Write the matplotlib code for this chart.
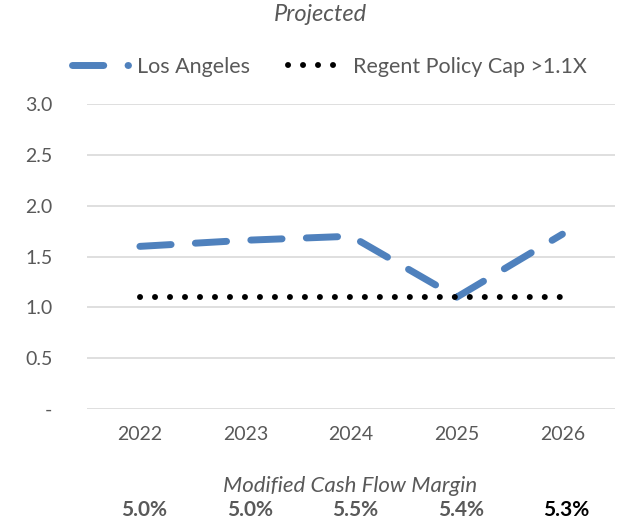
import matplotlib
matplotlib.use('Agg')
import matplotlib.pyplot as plt
import matplotlib.transforms as mtransforms

# chart data
years = ['2022', '2023', '2024', '2025', '2026']
los_angeles = [1.60, 1.66, 1.70, 1.10, 1.72]
policy_cap = [1.1, 1.1, 1.1, 1.1, 1.1]
cash_flow_margin = ['5.0%', '5.0%', '5.5%', '5.4%', '5.3%']
y_ticks = [0, 0.5, 1.0, 1.5, 2.0, 2.5, 3.0]
y_tick_labels = ['-', '0.5', '1.0', '1.5', '2.0', '2.5', '3.0']

plt.rcParams['font.family'] = ['Lato', 'DejaVu Sans']
grey = '#595959'

fig = plt.figure(figsize=(6.31, 5.23), dpi=100)
ax = fig.add_axes([0.138, 0.218, 0.837, 0.583])

x = list(range(len(years)))
ax.plot(x, los_angeles, color='#4f81bd', lw=5, linestyle=(0, (4.5, 3.5)),
        solid_capstyle='round', dash_capstyle='round', label='Los Angeles')
ax.plot(x, policy_cap, color='black', lw=4.3, linestyle=(0, (0.01, 2.5)),
        dash_capstyle='round', label='Regent Policy Cap >1.1X')

ax.set_xlim(-0.5, len(years) - 0.5)
ax.set_ylim(0, 3.0)
ax.set_yticks(y_ticks)
ax.set_yticklabels(y_tick_labels)
ax.set_xticks(x)
ax.set_xticklabels(years)
ax.tick_params(axis='both', length=0, labelsize=14, colors=grey)
ax.tick_params(axis='x', pad=12)
ax.tick_params(axis='y', pad=25)
for lbl in ax.get_yticklabels():
    lbl.set_horizontalalignment('right')
ax.grid(True, axis='y', color='#d9d9d9', lw=1.2)
ax.set_axisbelow(True)
for s in ax.spines.values():
    s.set_visible(False)

fig.text(0.508, 0.972, 'Projected', ha='center', va='center', fontsize=17,
         style='italic', color=grey)

leg = fig.legend(loc='center', bbox_to_anchor=(0.522, 0.872), ncol=2, frameon=False,
                 fontsize=15.5, handlelength=2.6, columnspacing=1.8, handletextpad=0.4)
for t in leg.get_texts():
    t.set_color(grey)

fig.text(0.555, 0.071, 'Modified Cash Flow Margin', ha='center', va='center',
         fontsize=16, style='italic', color=grey)
trans = mtransforms.blended_transform_factory(ax.transData, fig.transFigure)
for i, val in enumerate(cash_flow_margin):
    c = 'black' if i == len(cash_flow_margin) - 1 else grey
    ax.text(i + 0.04, 0.025, val, transform=trans, ha='center', va='center',
            fontsize=15, fontweight='bold', color=c)

fig.savefig('out.png', dpi=100)
plt.close(fig)
